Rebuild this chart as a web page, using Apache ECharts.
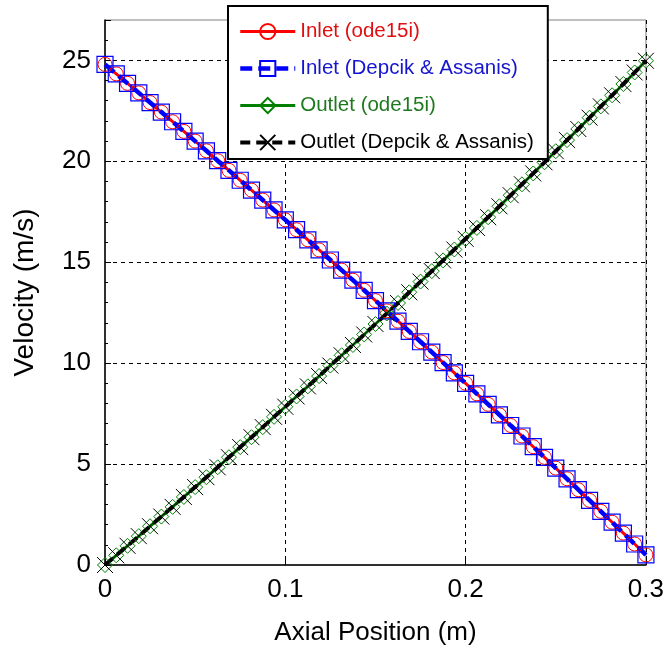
<!DOCTYPE html>
<html>
<head>
<meta charset="utf-8">
<script src="https://cdn.jsdelivr.net/npm/echarts@6/dist/echarts.min.js"></script>
<style>
html,body{margin:0;padding:0;background:#fff;}
#chart{width:667px;height:654px;}
</style>
</head>
<body>
<div id="chart"></div>
<script>
// Axial positions (m)
var axialPosition = [
  0, 0.00625, 0.0125, 0.01875, 0.025, 0.03125, 0.0375, 0.04375, 0.05, 0.05625,
  0.0625, 0.06875, 0.075, 0.08125, 0.0875, 0.09375, 0.1, 0.10625, 0.1125, 0.11875,
  0.125, 0.13125, 0.1375, 0.14375, 0.15, 0.15625, 0.1625, 0.16875, 0.175, 0.18125,
  0.1875, 0.19375, 0.2, 0.20625, 0.2125, 0.21875, 0.225, 0.23125, 0.2375, 0.24375,
  0.25, 0.25625, 0.2625, 0.26875, 0.275, 0.28125, 0.2875, 0.29375, 0.3
];
// Inlet channel velocity (m/s)
var inletVelocity = [
  24.80, 24.33, 23.86, 23.39, 22.91, 22.44, 21.96, 21.48, 21.00, 20.52,
  20.03, 19.55, 19.06, 18.57, 18.08, 17.59, 17.10, 16.61, 16.11, 15.61,
  15.11, 14.61, 14.11, 13.61, 13.10, 12.59, 12.08, 11.57, 11.06, 10.55,
  10.03, 9.52, 9.00, 8.48, 7.96, 7.44, 6.91, 6.39, 5.86, 5.33,
  4.80, 4.27, 3.73, 3.20, 2.66, 2.12, 1.58, 1.04, 0.50
];
// Outlet channel velocity (m/s)
var outletVelocity = [
  0.00, 0.48, 0.95, 1.43, 1.92, 2.40, 2.88, 3.37, 3.86, 4.35,
  4.84, 5.34, 5.84, 6.33, 6.83, 7.34, 7.84, 8.35, 8.85, 9.36,
  9.88, 10.39, 10.90, 11.42, 11.94, 12.46, 12.98, 13.51, 14.04, 14.56,
  15.09, 15.63, 16.16, 16.70, 17.23, 17.77, 18.32, 18.86, 19.40, 19.95,
  20.50, 21.05, 21.60, 22.16, 22.72, 23.27, 23.83, 24.40, 24.98
];
var seriesNames = ['Inlet (ode15i)', 'Inlet (Depcik & Assanis)', 'Outlet (ode15i)', 'Outlet (Depcik & Assanis)'];
var xTicks = [0, 0.1, 0.2, 0.3];
var yTicks = [0, 5, 10, 15, 20, 25];

function pairs(xs, ys) {
  var out = [];
  for (var i = 0; i < xs.length; i++) out.push([xs[i], ys[i]]);
  return out;
}

var FONT = '"Liberation Sans", Arial, sans-serif';
var chart = echarts.init(document.getElementById('chart'), null, {renderer: 'canvas'});

var crossPath = 'path://M0,0L10,10M10,0L0,10';

chart.setOption({
  animation: false,
  backgroundColor: '#fff',
  grid: {
    left: 105, right: 17, top: 20, bottom: 89,
    show: true, borderColor: '#808080', borderWidth: 1, backgroundColor: 'transparent'
  },
  xAxis: {
    type: 'value', min: 0, max: 0.3, interval: 0.1,
    name: 'Axial Position (m)', nameLocation: 'middle', nameGap: 55,
    nameTextStyle: {fontFamily: FONT, fontSize: 26, color: '#000'},
    axisLine: {show: true, onZero: false, lineStyle: {color: '#000', width: 1.5}},
    axisTick: {show: true, inside: true, length: 6, lineStyle: {color: '#000'}},
    axisLabel: {fontFamily: FONT, fontSize: 26, color: '#000', margin: 12,
      formatter: function (v) { return xTicks.indexOf(Math.round(v*10)/10) >= 0 ? String(Math.round(v*10)/10) : ''; }},
    splitLine: {show: true, showMinLine: false, lineStyle: {color: '#000', width: 1, type: [4, 4]}}
  },
  yAxis: {
    type: 'value', min: 0, max: 27, interval: 5,
    name: 'Velocity (m/s)', nameLocation: 'middle', nameGap: 66,
    nameTextStyle: {fontFamily: FONT, fontSize: 28, color: '#000'},
    axisLine: {show: true, onZero: false, lineStyle: {color: '#000', width: 1.5}},
    axisTick: {show: true, inside: true, length: 6, lineStyle: {color: '#000'}},
    minorTick: {show: true, splitNumber: 5, length: 3, lineStyle: {color: '#000'}},
    axisLabel: {fontFamily: FONT, fontSize: 26, color: '#000', margin: 14, showMaxLabel: false,
      formatter: function (v) { return yTicks.indexOf(v) >= 0 ? String(v) : ''; }},
    splitLine: {show: true, showMinLine: false, showMaxLine: false, lineStyle: {color: '#000', width: 1, type: [4, 4]}}
  },
  legend: {
    left: 228, top: 6, orient: 'vertical',
    backgroundColor: '#fff', borderColor: '#000', borderWidth: 2,
    padding: [15, 14, 6, 10],
    itemWidth: 55, itemHeight: 19, itemGap: 16,
    lineStyle: {width: 'inherit'},
    textStyle: {fontFamily: FONT, fontSize: 20.5},
    data: [
      {name: seriesNames[0], textStyle: {color: '#e01010'}},
      {name: seriesNames[1], textStyle: {color: '#1515d0'}},
      {name: seriesNames[2], textStyle: {color: '#1f7a1f'}},
      {name: seriesNames[3], textStyle: {color: '#000'}}
    ]
  },
  series: [
    {
      name: seriesNames[0], type: 'line', data: pairs(axialPosition, inletVelocity),
      symbol: 'circle', symbolSize: 14, showAllSymbol: true,
      lineStyle: {color: '#ff0000', width: 3},
      itemStyle: {color: 'rgba(255,255,255,0)', borderColor: '#ff0000', borderWidth: 1}
    },
    {
      name: seriesNames[1], type: 'line', data: pairs(axialPosition, inletVelocity),
      symbol: 'rect', symbolSize: 16, showAllSymbol: true,
      lineStyle: {color: '#0000ff', width: 4.5, type: [12, 6]},
      itemStyle: {color: 'rgba(255,255,255,0)', borderColor: '#0000ff', borderWidth: 1.2}
    },
    {
      name: seriesNames[2], type: 'line', data: pairs(axialPosition, outletVelocity),
      symbol: 'diamond', symbolSize: 15, showAllSymbol: true,
      lineStyle: {color: '#008000', width: 3},
      itemStyle: {color: 'rgba(255,255,255,0)', borderColor: '#008000', borderWidth: 1}
    },
    {
      name: seriesNames[3], type: 'line', data: pairs(axialPosition, outletVelocity),
      symbol: crossPath, symbolSize: 16, showAllSymbol: true,
      lineStyle: {color: '#000000', width: 4, type: [10, 6]},
      itemStyle: {color: 'rgba(0,0,0,0)', borderColor: '#000000', borderWidth: 1}
    }
  ]
});
</script>
</body>
</html>
